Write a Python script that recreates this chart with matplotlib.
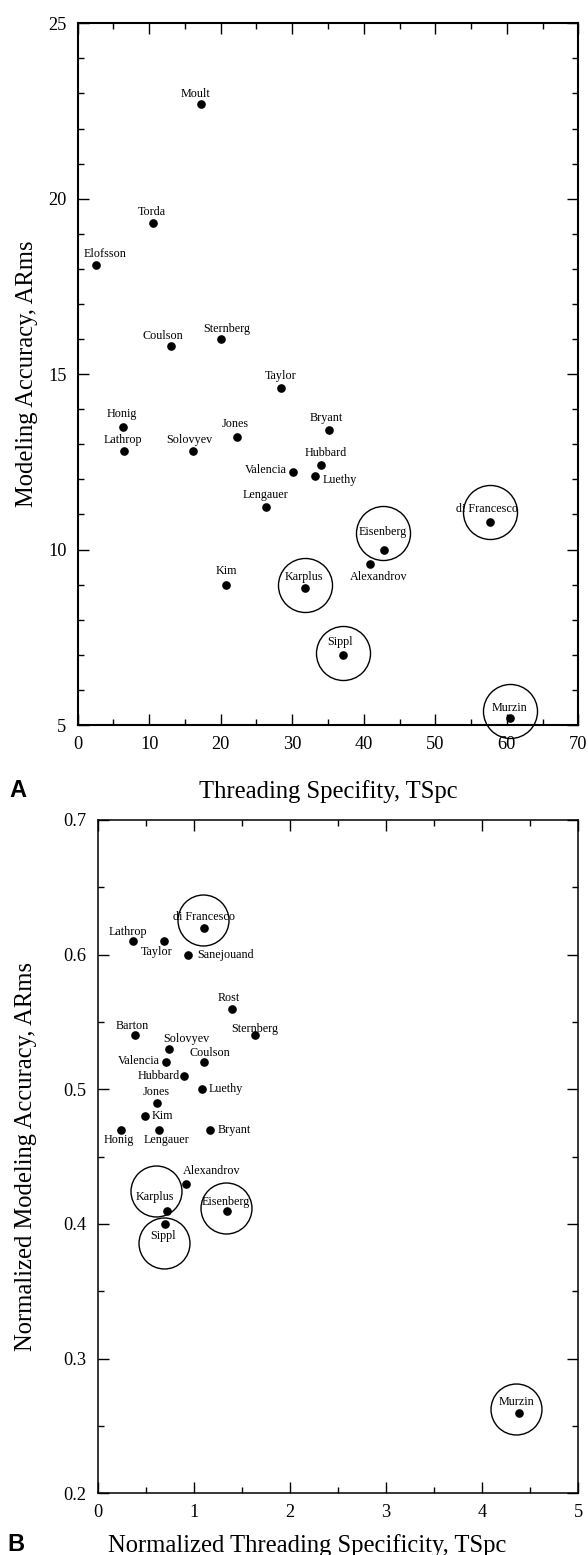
import matplotlib
matplotlib.use("Agg")
import matplotlib.pyplot as plt
from matplotlib.transforms import ScaledTranslation
from matplotlib.ticker import MultipleLocator

# ---------------- Data: panel A ----------------
names_a = ["Moult", "Torda", "Elofsson", "Coulson", "Sternberg", "Taylor", "Honig",
           "Lathrop", "Solovyev", "Jones", "Bryant", "Hubbard", "Valencia", "Luethy",
           "Lengauer", "di Francesco", "Eisenberg", "Alexandrov", "Kim", "Karplus",
           "Sippl", "Murzin"]
tspc_a = [17.2, 10.5, 2.5, 13.0, 20.0, 28.4, 6.4, 6.5, 16.1, 22.3, 35.1, 34.0, 30.1,
          33.2, 26.4, 57.7, 42.9, 40.9, 20.8, 31.8, 37.1, 60.4]
arms_a = [22.7, 19.3, 18.1, 15.8, 16.0, 14.6, 13.5, 12.8, 12.8, 13.2, 13.4, 12.4, 12.2,
          12.1, 11.2, 10.8, 10.0, 9.6, 9.0, 8.9, 7.0, 5.2]
circled_a = ["di Francesco", "Eisenberg", "Karplus", "Sippl", "Murzin"]
xticks_a = [0, 10, 20, 30, 40, 50, 60, 70]
yticks_a = [5, 10, 15, 20, 25]

# ---------------- Data: panel B ----------------
names_b = ["di Francesco", "Lathrop", "Taylor", "Sanejouand", "Rost", "Barton",
           "Sternberg", "Solovyev", "Valencia", "Coulson", "Hubbard", "Luethy", "Jones",
           "Kim", "Honig", "Lengauer", "Bryant", "Alexandrov", "Karplus", "Eisenberg",
           "Sippl", "Murzin"]
tspc_b = [1.11, 0.37, 0.69, 0.94, 1.40, 0.385, 1.64, 0.745, 0.71, 1.11, 0.90, 1.08,
          0.62, 0.495, 0.24, 0.64, 1.165, 0.916, 0.725, 1.35, 0.70, 4.38]
arms_b = [0.62, 0.61, 0.61, 0.60, 0.56, 0.54, 0.54, 0.53, 0.52, 0.52, 0.51, 0.50,
          0.49, 0.48, 0.47, 0.47, 0.47, 0.43, 0.41, 0.41, 0.40, 0.26]
circled_b = ["di Francesco", "Karplus", "Eisenberg", "Sippl", "Murzin"]
xticks_b = [0, 1, 2, 3, 4, 5]
yticks_b = [0.2, 0.3, 0.4, 0.5, 0.6, 0.7]

# ---------------- Styles (label placement in pixels, y up) ----------------
lab_a = {"Moult": (-5, 10, "center"), "Torda": (-1, 11, "center"),
         "Elofsson": (9, 11, "center"), "Coulson": (-8, 10, "center"),
         "Sternberg": (6, 10, "center"), "Taylor": (0, 12, "center"),
         "Honig": (-2, 13, "center"), "Lathrop": (-1, 11, "center"),
         "Solovyev": (-3, 11, "center"), "Jones": (-2, 13, "center"),
         "Bryant": (-2, 12, "center"), "Hubbard": (5, 12, "center"),
         "Valencia": (-6, 2, "right"), "Luethy": (8, -4, "left"),
         "Lengauer": (-1, 12, "center"), "di Francesco": (-3, 13, "center"),
         "Eisenberg": (-2, 17.5, "center"), "Alexandrov": (8, -13, "center"),
         "Kim": (0, 13.5, "center"), "Karplus": (-1, 11.5, "center"),
         "Sippl": (-3, 13, "center"), "Murzin": (0, 10, "center")}
lab_b = {"di Francesco": (0, 11, "center"), "Lathrop": (-5.5, 9.5, "center"),
         "Taylor": (-7, -11, "center"), "Sanejouand": (9, -0.5, "left"),
         "Rost": (-4, 11, "center"), "Barton": (-2, 9, "center"),
         "Sternberg": (-1, 6.5, "center"), "Solovyev": (17, 9.5, "center"),
         "Valencia": (-6, 1.5, "right"), "Coulson": (5.5, 9.5, "center"),
         "Hubbard": (-4, 0, "right"), "Luethy": (7.5, 0, "left"),
         "Jones": (-1.5, 11, "center"), "Kim": (6.5, 0, "left"),
         "Honig": (-1.5, -10, "center"), "Lengauer": (7.5, -10, "center"),
         "Bryant": (8, 0, "left"), "Alexandrov": (26, 13, "center"),
         "Karplus": (-12.5, 13.5, "center"), "Eisenberg": (-1.5, 8.5, "center"),
         "Sippl": (-2, -12, "center"), "Murzin": (-2, 11, "center")}
circ_a = {"di Francesco": (0, 9.7), "Eisenberg": (-1, 16.6), "Karplus": (0, 3),
          "Sippl": (0, 1.6), "Murzin": (0, 6.6)}
circ_b = {"di Francesco": (-1.6, 8), "Karplus": (-11.6, 19.4), "Eisenberg": (-1.3, 2.4),
          "Sippl": (-1, -19.3), "Murzin": (-2.7, 3.3)}

SERIF = ["Liberation Serif", "DejaVu Serif"]
plt.rcParams["font.family"] = SERIF

W, H, DPI = 588, 1555, 100
fig = plt.figure(figsize=(W / DPI, H / DPI), dpi=DPI)


def px_axes(l, t, r, b):
    return fig.add_axes([l / W, 1 - b / H, (r - l) / W, (b - t) / H])


def draw_panel(ax, names, xs, ys, circled, labs, circs, circ_ms, xlim, ylim,
               xticks, yticks, xminor, yminor, xlabel, ylabel, spine_w, yfmt):
    ax.set_xlim(*xlim)
    ax.set_ylim(*ylim)
    ax.plot(xs, ys, linestyle="none", marker="o", ms=5.2, color="black", zorder=3,
            clip_on=False)
    for n, x, y in zip(names, xs, ys):
        dx, dy, ha = labs[n]
        ax.annotate(n, (x, y), xytext=(dx, dy), textcoords="offset pixels",
                    ha=ha, va="center", fontsize=8.7, family=SERIF)
    for n in circled:
        i = names.index(n)
        dx, dy = circs[n]
        tr = ax.transData + ScaledTranslation(dx / DPI, dy / DPI, fig.dpi_scale_trans)
        ax.plot([xs[i]], [ys[i]], linestyle="none", marker="o", ms=circ_ms,
                mfc="none", mec="black", mew=1.0, transform=tr, clip_on=False,
                zorder=4)
    ax.set_xticks(xticks)
    ax.set_yticks(yticks)
    ax.set_xticklabels([str(t) for t in xticks])
    ax.set_yticklabels([yfmt(t) for t in yticks])
    ax.xaxis.set_minor_locator(MultipleLocator(xminor))
    ax.yaxis.set_minor_locator(MultipleLocator(yminor))
    ax.tick_params(which="both", direction="in", top=True, right=True,
                   width=1.0, labelsize=13.2)
    ax.tick_params(which="major", length=8, pad=8)
    ax.tick_params(which="minor", length=4)
    for s in ax.spines.values():
        s.set_linewidth(spine_w)
    ax.set_xlabel(xlabel, fontsize=17.7)
    ax.set_ylabel(ylabel, fontsize=17.7)


# Panel A
axA = px_axes(77.7, 23.3, 578.3, 725)
draw_panel(axA, names_a, tspc_a, arms_a, circled_a, lab_a, circ_a, 38.9,
           (0, 70), (5, 25), xticks_a, yticks_a, 5, 1,
           "Threading Specifity, TSpc", "Modeling Accuracy, ARms", 1.5,
           lambda t: str(t))
axA.xaxis.set_label_coords(0.5, -0.078)
axA.yaxis.set_label_coords(-0.08, 0.5)

# Panel B
axB = px_axes(97.7, 820, 578.3, 1493.3)
draw_panel(axB, names_b, tspc_b, arms_b, circled_b, lab_b, circ_b, 36.7,
           (0, 5), (0.2, 0.7), xticks_b, yticks_b, 0.5, 0.05,
           "Normalized Threading Specificity, TSpc",
           "Normalized Modeling Accuracy, ARms", 1.1,
           lambda t: f"{t:.1f}")
axB.xaxis.set_label_coords(0.435, -0.06)
axB.yaxis.set_label_coords(-0.126, 0.5)

fig.text(9 / W, 1 - 797 / H, "A", fontsize=17, fontweight="bold",
         family=["Liberation Sans", "DejaVu Sans"], ha="left", va="baseline")
fig.text(7 / W, 1 - 1551 / H, "B", fontsize=17, fontweight="bold",
         family=["Liberation Sans", "DejaVu Sans"], ha="left", va="baseline")

fig.savefig("out.png", dpi=DPI)
